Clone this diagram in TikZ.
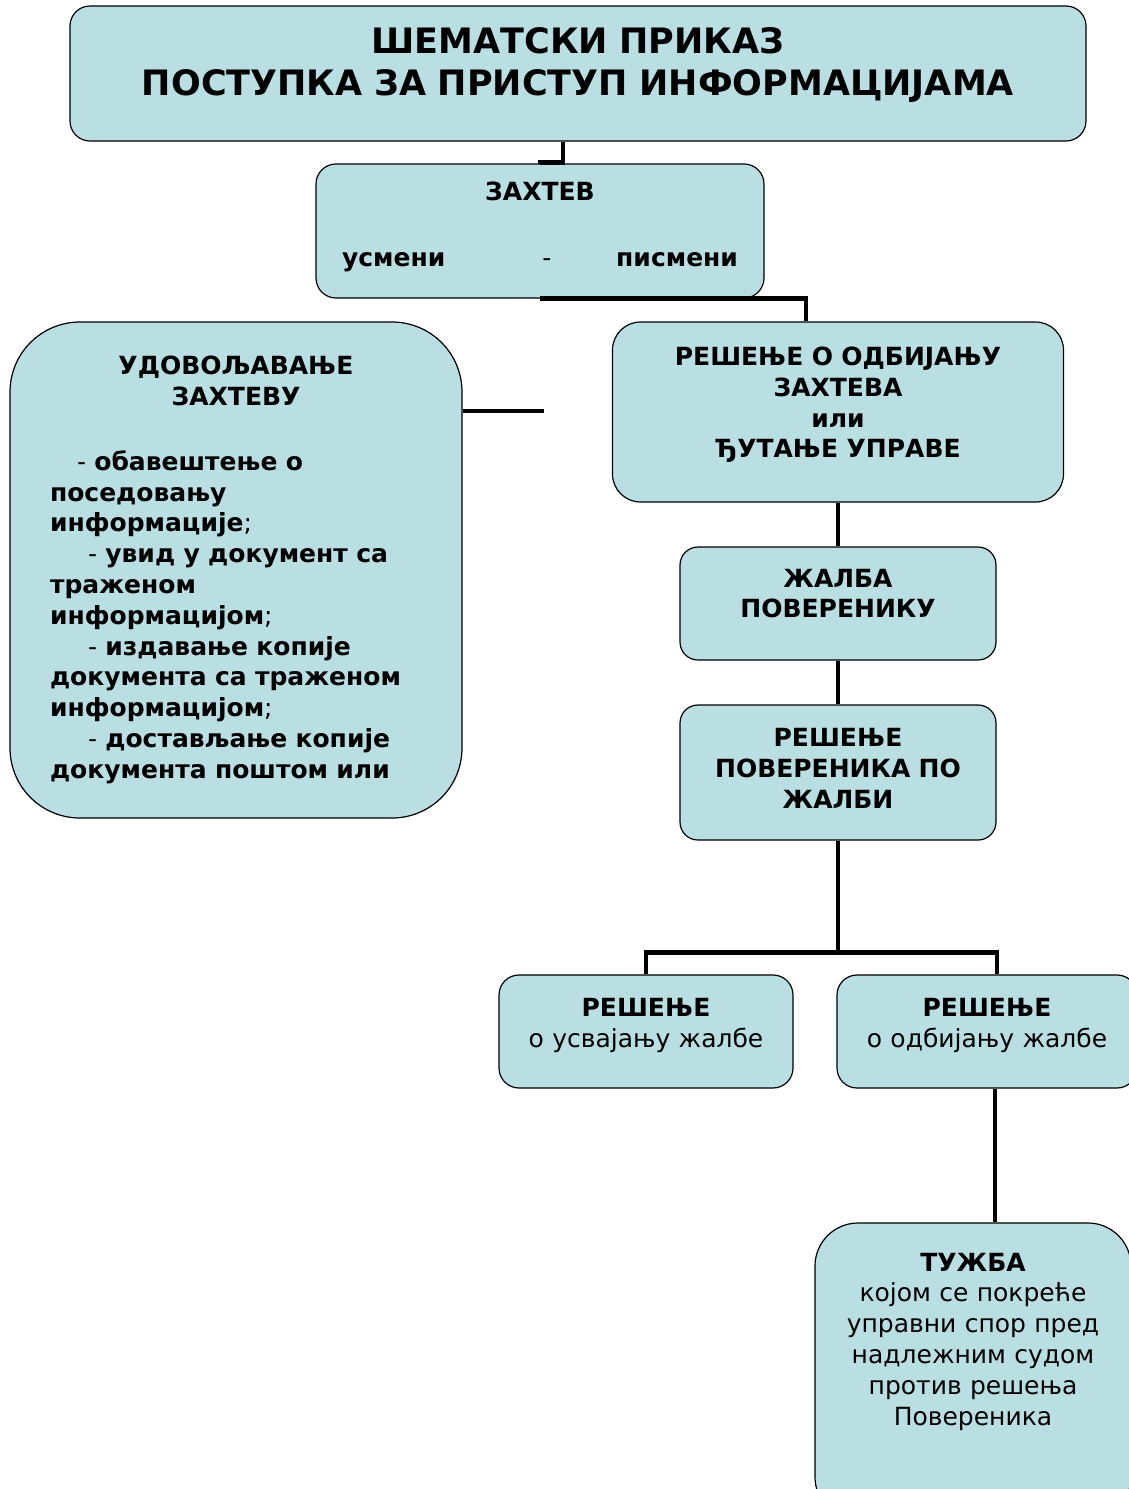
\documentclass[tikz,border=0pt]{standalone}
\usepackage{fontspec}
\setmainfont{DejaVu Sans}
\usetikzlibrary{calc}
\definecolor{boxfill}{HTML}{B9DFE3}
\tikzstyle{box} = [rectangle, draw = black, fill = boxfill, line width = 1.2pt, text centered, rounded corners = 20pt, inner sep = 0pt]
\tikzstyle{link} = [draw, line width = 4.5pt]
\newcommand{\bodyfont}{\fontsize{25}{30.8}\selectfont}

\begin{document}
\begin{tikzpicture}[x = 1pt, y = -1pt, font = \bodyfont\bfseries]
    \useasboundingbox (0, 0) rectangle (1129, 1489);
    \fill[white] (0, 0) rectangle (1129, 1489);

    \node[box, minimum width = 1016pt, minimum height = 135pt, text width = 1000pt, font = \fontsize{35}{42}\selectfont\bfseries] (naslov) at (578, 73.5) {ШЕМАТСКИ ПРИКАЗ\\ ПОСТУПКА ЗА ПРИСТУП ИНФОРМАЦИЈАМА\par\kern16pt};
    \node[box, minimum width = 448pt, minimum height = 134pt, text width = 396pt] (zahtev) at (540, 231) {ЗАХТЕВ\\[36pt] \hbox to \linewidth{усмени\hspace{0pt plus 3fill}{\mdseries -}\hspace{0pt plus 2fill}писмени}\par\kern8pt};
    \node[box, rounded corners = 70pt, minimum width = 452pt, minimum height = 496pt, text width = 372pt, align = left] (udov) at (236, 570) {\makebox[\linewidth]{УДОВОЉАВАЊЕ}\\ \makebox[\linewidth]{ЗАХТЕВУ}\\[34pt]
        \hspace*{27pt}{\mdseries -} обавештење о\\ поседовању\\ информације{\mdseries ;}\\
        \hspace*{38pt}{\mdseries -} увид у документ са\\ траженом\\ информацијом{\mdseries ;}\\
        \hspace*{38pt}{\mdseries -} издавање копије\\ документа са траженом\\ информацијом{\mdseries ;}\\
        \hspace*{38pt}{\mdseries -} достављање копије\\ документа поштом или};
    \node[box, rounded corners = 28pt, minimum width = 451pt, minimum height = 180pt, text width = 430pt] (odbij) at (838, 412) {РЕШЕЊЕ О ОДБИЈАЊУ\\ ЗАХТЕВА\\ или\\ ЂУТАЊЕ УПРАВЕ\par\kern14pt};
    \node[box, rounded corners = 18pt, minimum width = 316pt, minimum height = 113pt, text width = 300pt] (zalba) at (838, 603.5) {ЖАЛБА\\ ПОВЕРЕНИКУ\par\kern20pt};
    \node[box, rounded corners = 18pt, minimum width = 316pt, minimum height = 135pt, text width = 300pt] (respov) at (838, 772.5) {РЕШЕЊЕ\\ ПОВЕРЕНИКА ПО\\ ЖАЛБИ\par\kern8pt};
    \node[box, minimum width = 294pt, minimum height = 113pt, text width = 280pt, font = \bodyfont] (usvoj) at (646, 1031.5) {\textbf{РЕШЕЊЕ}\\ о усвајању жалбе\par\kern12pt};
    \node[box, minimum width = 300pt, minimum height = 113pt, text width = 290pt, font = \bodyfont] (odbijz) at (987, 1031.5) {\textbf{РЕШЕЊЕ}\\ о одбијању жалбе\par\kern12pt};
    \node[box, rounded corners = 43pt, minimum width = 316pt, minimum height = 297pt, text width = 300pt, font = \bodyfont] (tuzba) at (973, 1371.5) {\textbf{ТУЖБА}\\ којом се покреће\\ управни спор пред\\ надлежним судом\\ против решења\\ Повереника\par\kern60pt};

    \coordinate (kraj) at (544, 411);
    \path[link] ([xshift = -15pt]naslov.south) -- ++(0, 21) -| (zahtev.north);
    \path[link] (zahtev.south) -| ([xshift = -32pt]odbij.north);
    \path[link] (udov.east |- kraj) -- (kraj);
    \path[link] (odbij.south) -- (zalba.north);
    \path[link] (zalba.south) -- (respov.north);
    \path[link] (respov.south) -- ++(0, 112) coordinate (racva);
    \path[link] (racva) -| (usvoj.north);
    \path[link] (racva) -| ([xshift = 10pt]odbijz.north);
    \path[link] ([xshift = 8pt]odbijz.south) |- ([xshift = 22pt]tuzba.north);
\end{tikzpicture}
\end{document}
